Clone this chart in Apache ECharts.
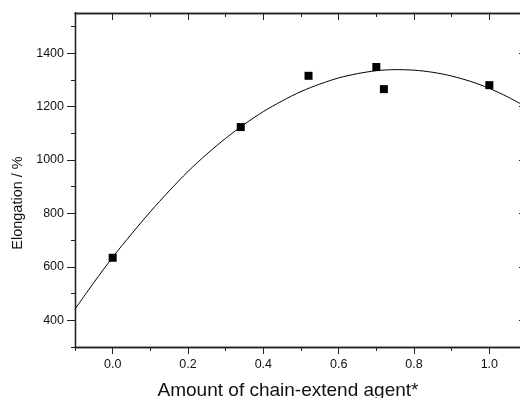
<!DOCTYPE html>
<html>
<head>
<meta charset="utf-8">
<script src="https://cdn.jsdelivr.net/npm/echarts@6/dist/echarts.min.js"></script>
<style>
  html, body { margin: 0; padding: 0; background: #fff; }
  #main { width: 520px; height: 398px; }
</style>
</head>
<body>
<div id="main"></div>
<script>
// measured points
var amount = [0, 0.34, 0.52, 0.70, 0.72, 1.0];
var elongation = [634, 1123, 1315, 1348, 1265, 1280];

// fitted curve
var fitX = [-0.1, -0.05, 0, 0.05, 0.1, 0.15, 0.2, 0.25, 0.3, 0.35, 0.4, 0.45, 0.5,
            0.55, 0.6, 0.65, 0.7, 0.75, 0.8, 0.85, 0.9, 0.95, 1.0, 1.05, 1.1];
var fitY = [442, 541, 636, 723, 806, 884, 957, 1022, 1081, 1134, 1181, 1221, 1256,
            1284, 1307, 1323, 1334, 1338, 1336, 1328, 1314, 1294, 1268, 1235, 1197];

var xMajor = [0, 0.2, 0.4, 0.6, 0.8, 1.0];
var xMinor = [-0.1, 0.1, 0.3, 0.5, 0.7, 0.9, 1.1];
var yMajor = [400, 600, 800, 1000, 1200, 1400];
var yMinor = [300, 500, 700, 900, 1100, 1300, 1500];

var chartDom = document.getElementById('main');
var chart = echarts.init(chartDom);

var font = 'Liberation Sans, Arial, sans-serif';
var lineCol = '#222';

function xAx(pos, ticks, len, inside, labels, name) {
    return {
        type: 'value', position: pos, min: -0.1, max: 1.1,
        axisLine: { show: true, onZero: false, lineStyle: { color: lineCol, width: 1.3 } },
        axisTick: { show: true, inside: inside, length: len, customValues: ticks,
                    lineStyle: { color: lineCol, width: 1 } },
        axisLabel: labels ? {
            show: true, customValues: ticks, margin: 11, color: '#111',
            fontFamily: font, fontSize: 12.5,
            formatter: function (v) { return v.toFixed(1); }
        } : { show: false },
        splitLine: { show: false },
        name: name || '', nameLocation: 'middle', nameGap: 34,
        nameTextStyle: { fontFamily: font, fontSize: 19, color: '#111', padding: [0, 26, 0, 0] }
    };
}

function yAx(pos, ticks, len, inside, labels, name) {
    return {
        type: 'value', position: pos, min: 300, max: 1550,
        axisLine: { show: true, onZero: false, lineStyle: { color: lineCol, width: 1.3 } },
        axisTick: { show: true, inside: inside, length: len, customValues: ticks,
                    lineStyle: { color: lineCol, width: 1 } },
        axisLabel: labels ? {
            show: true, customValues: ticks, margin: 11, color: '#111',
            fontFamily: font, fontSize: 12.5,
            formatter: function (v) { return String(v); }
        } : { show: false },
        splitLine: { show: false },
        name: name || '', nameLocation: 'middle', nameGap: 48, nameRotate: 90,
        nameTextStyle: { fontFamily: font, fontSize: 14.5, color: '#111', padding: [0, 46, 0, 0] }
    };
}

var scatterData = amount.map(function (x, i) { return [x, elongation[i]]; });
var fitData = fitX.map(function (x, i) { return [x, fitY[i]]; });

var option = {
    backgroundColor: '#fff',
    animation: false,
    grid: { left: 75, top: 13, right: -7, bottom: 51, outerBoundsMode: 'none', containLabel: false },
    xAxis: [
        xAx('bottom', xMajor, 7, false, true, 'Amount of chain-extend agent*'),
        xAx('bottom', xMinor, 4, false, false),
        xAx('top', xMajor, 7, true, false),
        xAx('top', xMinor, 4, true, false)
    ],
    yAxis: [
        yAx('left', yMajor, 8, false, true, 'Elongation / %'),
        yAx('left', yMinor, 4, false, false),
        yAx('right', yMajor, 8, true, false),
        yAx('right', yMinor, 4, true, false)
    ],
    series: [
        {
            type: 'line',
            data: fitData,
            smooth: 0.3,
            showSymbol: false,
            lineStyle: { color: '#000', width: 1 },
            xAxisIndex: 0, yAxisIndex: 0
        },
        {
            type: 'scatter',
            data: scatterData,
            symbol: 'rect',
            symbolSize: 8,
            itemStyle: { color: '#000', opacity: 1 },
            xAxisIndex: 0, yAxisIndex: 0
        }
    ]
};

option && chart.setOption(option);
</script>
</body>
</html>
